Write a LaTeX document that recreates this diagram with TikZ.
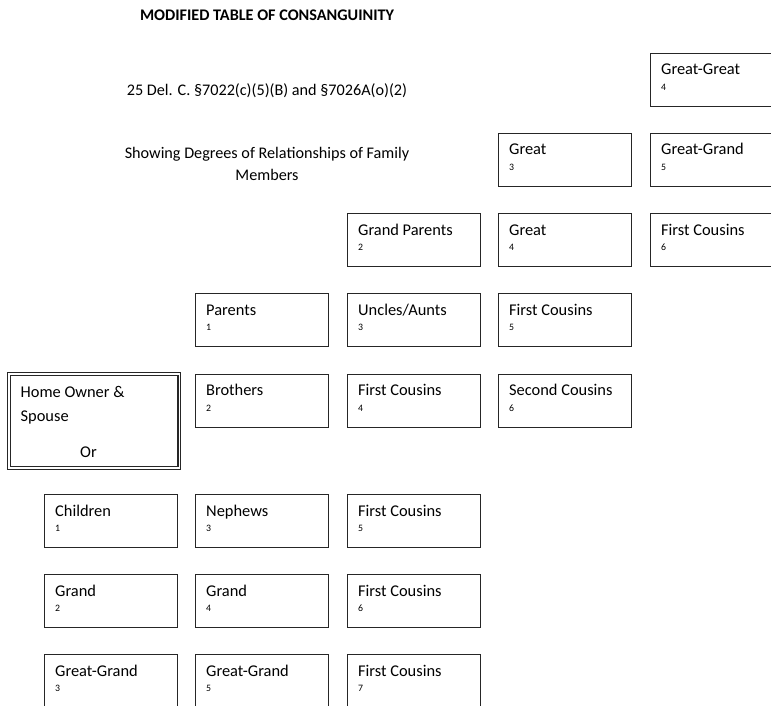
\documentclass[tikz,border=0pt]{standalone}
\usepackage{fontspec}
\setmainfont{Carlito}
\tikzset{
  famrect/.style={draw=black!85, line width=1.3pt, minimum width=133pt, minimum height=53pt, anchor=north west, inner sep=0pt},
  famlab/.style={anchor=base west, inner sep=0pt, font=\fontsize{16.4}{20}\selectfont},
  famnum/.style={anchor=base west, inner sep=0pt, font=\fontsize{9.8}{11}\selectfont},
  homebox/.style={draw=black!85, double, line width=1.2pt, double distance=1.5pt, minimum width=170.4pt, minimum height=94.3pt, anchor=north west, inner sep=0pt},
  headtxt/.style={inner sep=0pt, align=center, font=\fontsize{16.2}{22}\selectfont}
}
\newcommand\famBox[5]{%
  \node[famrect] (#1) at (#2,#3) {};
  \node[famlab] (#1-l) at ([shift={(11,22)}]#1.north west) {#4};
  \node[famnum] (#1-n) at ([shift={(11,37.6)}]#1.north west) {#5};
}
\begin{document}
\begin{tikzpicture}[x=1pt,y=-1pt]
\clip (0,0) rectangle (771,706);
\fill[white] (0,0) rectangle (771,706);
% headings
\node[headtxt, font=\fontsize{16.2}{22}\selectfont\bfseries] (title) at (267,15) {MODIFIED TABLE OF CONSANGUINITY};
\node[headtxt] (cite) at (267,91) {25 Del. C. §7022(c)(5)(B) and §7026A(o)(2)};
\node[headtxt] (sub) at (267,164) {Showing Degrees of Relationships of Family\\Members};
% home owner
\node[homebox] (home) at (8.3,373.2) {};
\node[famlab] (home-l1) at (20.5,397) {Home Owner \&};
\node[famlab] (home-l2) at (20.5,421) {Spouse};
\node[famlab, anchor=base] (home-or) at (88.5,457) {Or};
% column E
\famBox{e0}{650}{53}{Great-Great}{4}
\famBox{e1}{650}{133}{Great-Grand}{5}
\famBox{e2}{650}{213}{First Cousins}{6}
% column D
\famBox{d1}{498}{133}{Great}{3}
\famBox{d2}{498}{213}{Great}{4}
\famBox{d3}{498}{293}{First Cousins}{5}
\famBox{d4}{498}{373.5}{Second Cousins}{6}
% column C
\famBox{c2}{347}{213}{Grand Parents}{2}
\famBox{c3}{347}{293}{Uncles/Aunts}{3}
\famBox{c4}{347}{373.5}{First Cousins}{4}
\famBox{c5}{347}{494}{First Cousins}{5}
\famBox{c6}{347}{574}{First Cousins}{6}
\famBox{c7}{347}{654}{First Cousins}{7}
% column B
\famBox{b3}{195}{293}{Parents}{1}
\famBox{b4}{195}{373.5}{Brothers}{2}
\famBox{b5}{195}{494}{Nephews}{3}
\famBox{b6}{195}{574}{Grand}{4}
\famBox{b7}{195}{654}{Great-Grand}{5}
% column A
\famBox{a5}{44}{494}{Children}{1}
\famBox{a6}{44}{574}{Grand}{2}
\famBox{a7}{44}{654}{Great-Grand}{3}
\end{tikzpicture}
\end{document}
